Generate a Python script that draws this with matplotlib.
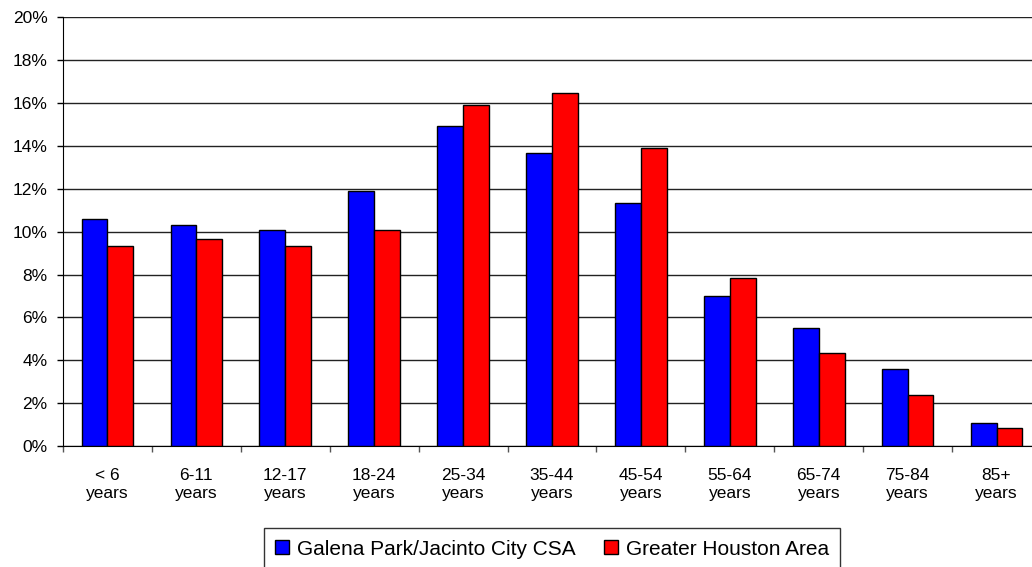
import matplotlib
matplotlib.use("Agg")
import matplotlib.pyplot as plt
import numpy as np
from matplotlib.ticker import FuncFormatter, FixedLocator, NullFormatter

categories = ["< 6\nyears", "6-11\nyears", "12-17\nyears", "18-24\nyears", "25-34\nyears",
              "35-44\nyears", "45-54\nyears", "55-64\nyears", "65-74\nyears", "75-84\nyears",
              "85+\nyears"]
galena = [10.58, 10.33, 10.08, 11.91, 14.92, 13.66, 11.33, 7.0, 5.49, 3.58, 1.06]
houston = [9.33, 9.66, 9.33, 10.08, 15.90, 16.49, 13.91, 7.84, 4.32, 2.39, 0.83]
series_names = ["Galena Park/Jacinto City CSA", "Greater Houston Area"]

plt.rcParams['font.family'] = ['Liberation Sans', 'DejaVu Sans']

W, H = 1032, 567
fig = plt.figure(figsize=(W / 100, H / 100), dpi=100)
left, right, top, bottom = 63, 1041, 17.3, 446
ax = fig.add_axes([left / W, 1 - bottom / H, (right - left) / W, (bottom - top) / H])

x = np.arange(len(categories))
bw = 0.29
ax.bar(x - bw / 2, galena, bw, color="#0000FF", edgecolor="black", linewidth=1.0, zorder=3,
       label=series_names[0])
ax.bar(x + bw / 2, houston, bw, color="#FF0000", edgecolor="black", linewidth=1.0, zorder=3,
       label=series_names[1])

ax.set_xlim(-0.5, len(categories) - 0.5)
ax.set_ylim(0, 20)
ax.set_yticks(np.arange(0, 21, 2))
ax.yaxis.set_major_formatter(FuncFormatter(lambda v, p: f"{int(v)}%"))
ax.grid(axis="y", color="#222222", linewidth=1.0, zorder=0)

ax.xaxis.set_major_locator(FixedLocator(np.arange(-0.5, len(categories), 1.0)))
ax.xaxis.set_major_formatter(NullFormatter())
ax.xaxis.set_minor_locator(FixedLocator(x))
ax.set_xticklabels(categories, minor=True)
ax.tick_params(axis="x", which="minor", length=0, pad=16, labelsize=12.5)
ax.tick_params(axis="x", which="major", length=4, width=1, color="#555555")
ax.tick_params(axis="y", length=4.5, width=1, labelsize=12.5, pad=6.5)

for s in ["top", "right"]:
    ax.spines[s].set_visible(False)
ax.spines["left"].set_color("black")
ax.spines["bottom"].set_color("black")

leg = fig.legend(loc="lower center", bbox_to_anchor=((left + right) / 2 / W, -3 / H),
                 ncol=2, frameon=True, fancybox=False, edgecolor="black", fontsize=15,
                 handlelength=0.67, handleheight=0.67, handletextpad=0.38, columnspacing=1.35,
                 borderpad=0.55, borderaxespad=0.0)
leg.get_frame().set_linewidth(1.0)

fig.savefig("out.png", dpi=100)
